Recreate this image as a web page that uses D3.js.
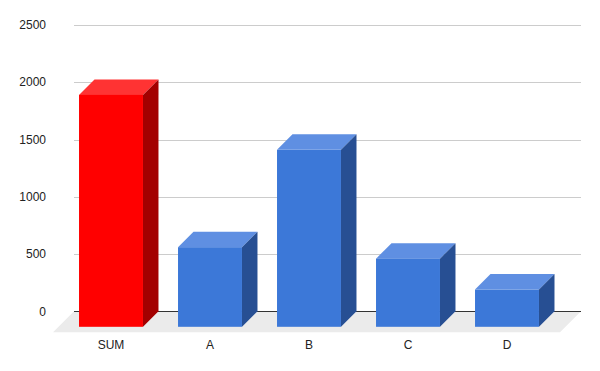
<!DOCTYPE html>
<html>
<head>
<meta charset="utf-8">
<script src="https://cdn.jsdelivr.net/npm/d3@7"></script>
<style>
  body { margin: 0; background: #fff; }
  text { font-family: "Liberation Sans", Arial, sans-serif; }
</style>
</head>
<body>
<div id="chart"></div>
<script>
// datos
const categories = ["SUM", "A", "B", "C", "D"];
const values = [2025, 695, 1545, 595, 325];
const yTicks = [0, 500, 1000, 1500, 2000, 2500];

const width = 600;
const height = 371;
const depth = 15.5;      // desplazamiento 3D de las barras
const floorDepth = 21;   // profundidad del suelo

const svg = d3.select("#chart")
  .append("svg")
  .attr("width", width)
  .attr("height", height);

// escalas
const yScale = d3.scaleLinear()
  .domain([0, 2500])
  .range([311.3, 25]);

const xScale = d3.scaleBand()
  .domain(categories)
  .range([61.5, 556.5])
  .paddingInner(0.354)
  .paddingOuter(0.177);

const gridLeft = 74;
const gridRight = 581;

// lineas de cuadricula (pared del fondo)
svg.selectAll(".grid")
  .data(yTicks.filter(d => d !== 0))
  .enter()
  .append("line")
  .attr("class", "grid")
  .attr("x1", gridLeft)
  .attr("x2", gridRight)
  .attr("y1", d => Math.round(yScale(d)) + 0.5)
  .attr("y2", d => Math.round(yScale(d)) + 0.5)
  .attr("stroke", "#cccccc")
  .attr("stroke-width", 1);

// suelo
const y0 = yScale(0);
svg.append("path")
  .attr("d", `M${gridLeft},${y0} L${gridRight},${y0} L${gridRight - floorDepth},${y0 + floorDepth} L${gridLeft - floorDepth},${y0 + floorDepth} Z`)
  .attr("fill", "#ebebeb");

// linea del cero
svg.append("line")
  .attr("x1", gridLeft)
  .attr("x2", gridRight)
  .attr("y1", Math.round(y0) + 0.5)
  .attr("y2", Math.round(y0) + 0.5)
  .attr("stroke", "#333333")
  .attr("stroke-width", 1);

// etiquetas del eje y
svg.selectAll(".ylabel")
  .data(yTicks)
  .enter()
  .append("text")
  .attr("class", "ylabel")
  .attr("x", 46)
  .attr("y", d => yScale(d))
  .attr("dy", "0.35em")
  .attr("text-anchor", "end")
  .attr("font-size", 12)
  .attr("fill", "#222")
  .text(d => d);

// colores: frente, arriba, lado
const colors = d => d === "SUM"
  ? { front: "#ff0000", top: "#ff3333", side: "#a30000" }
  : { front: "#3c78d8", top: "#5f8fe2", side: "#274f93" };

const bars = svg.selectAll(".bar")
  .data(categories.map((c, i) => ({ cat: c, value: values[i] })))
  .enter()
  .append("g")
  .attr("class", "bar");

const bw = xScale.bandwidth();

// cara superior
bars.append("path")
  .attr("d", d => {
    const x = xScale(d.cat);
    const yt = yScale(d.value) + depth;
    return `M${x},${yt} L${x + depth},${yt - depth} L${x + bw + depth},${yt - depth} L${x + bw},${yt} Z`;
  })
  .attr("fill", d => colors(d.cat).top);

// cara lateral
bars.append("path")
  .attr("d", d => {
    const x = xScale(d.cat) + bw;
    const yt = yScale(d.value) + depth;
    const yb = y0 + depth;
    return `M${x},${yt} L${x + depth},${yt - depth} L${x + depth},${yb - depth} L${x},${yb} Z`;
  })
  .attr("fill", d => colors(d.cat).side);

// cara frontal
bars.append("rect")
  .attr("x", d => xScale(d.cat))
  .attr("y", d => yScale(d.value) + depth)
  .attr("width", bw)
  .attr("height", d => y0 - yScale(d.value))
  .attr("fill", d => colors(d.cat).front);

// etiquetas del eje x
svg.selectAll(".xlabel")
  .data(categories)
  .enter()
  .append("text")
  .attr("class", "xlabel")
  .attr("x", d => xScale(d) + bw / 2)
  .attr("y", 345)
  .attr("dy", "0.35em")
  .attr("text-anchor", "middle")
  .attr("font-size", 12)
  .attr("fill", "#222")
  .text(d => d);
</script>
</body>
</html>
